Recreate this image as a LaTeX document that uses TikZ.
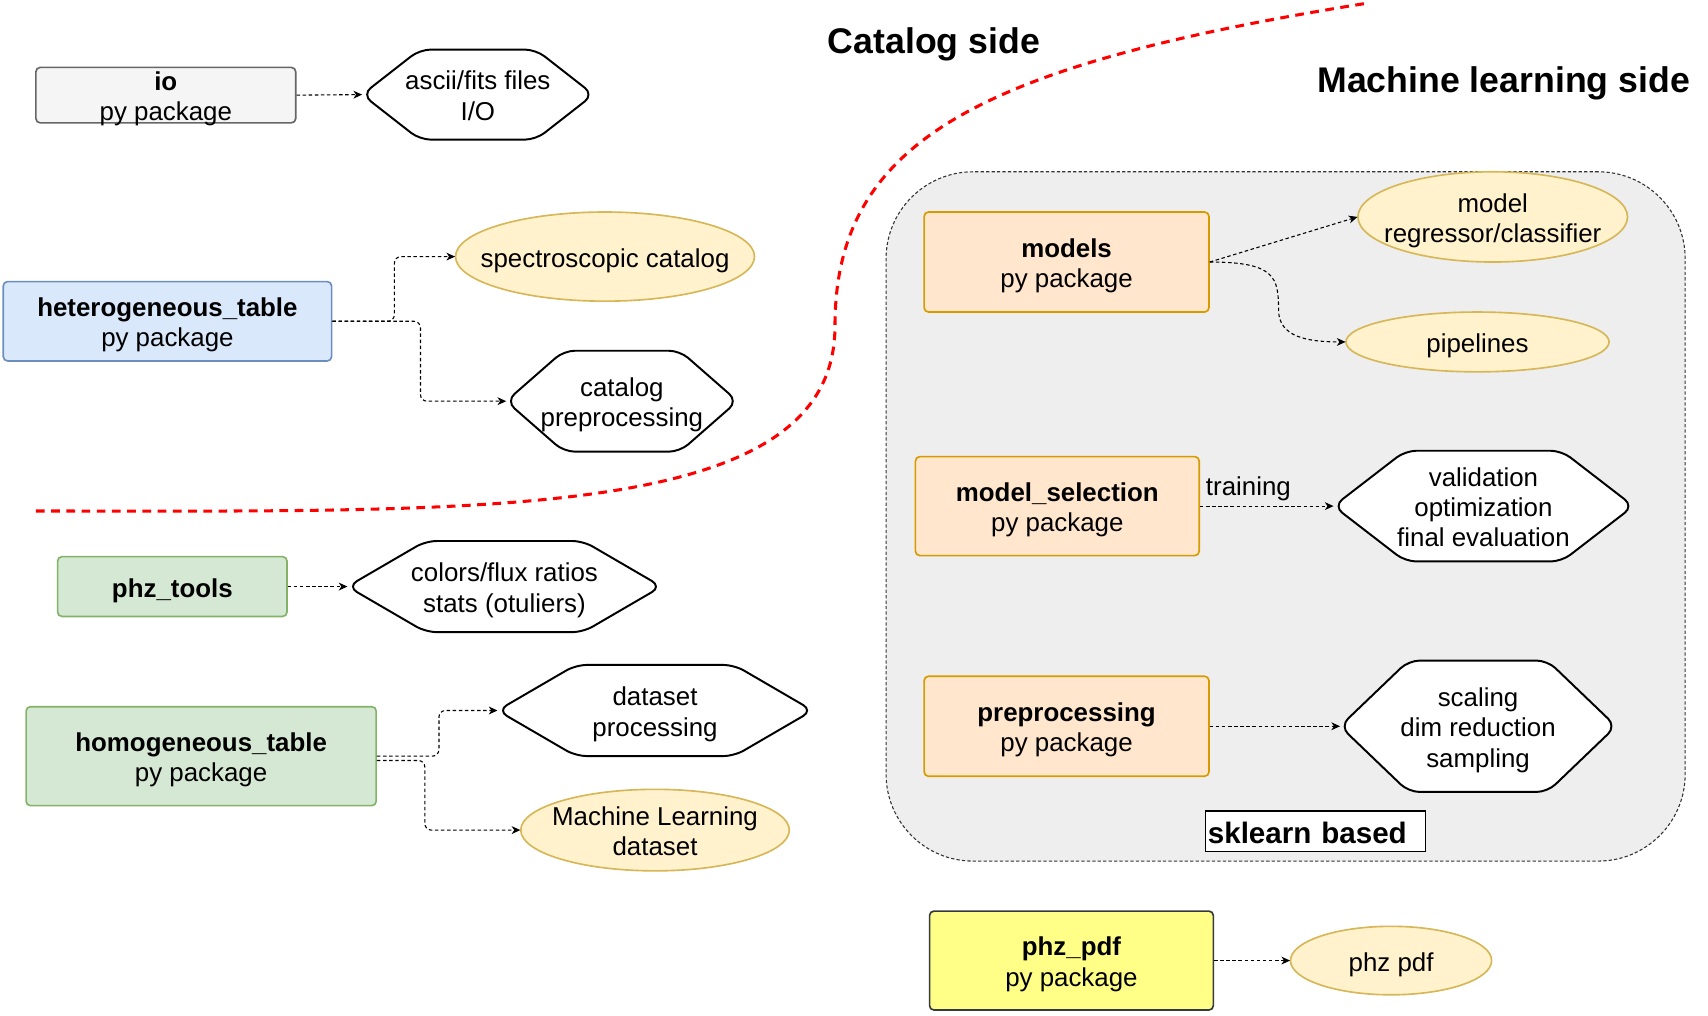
\documentclass[tikz,border=0pt]{standalone}
\usepackage{fontspec}
\setmainfont{Liberation Sans}
\usetikzlibrary{arrows.meta}
\pgfdeclarelayer{bg}
\pgfdeclarelayer{mid}
\pgfsetlayers{bg,mid,main}
\definecolor{grayfill}{HTML}{F5F5F5}
\definecolor{graystroke}{HTML}{666666}
\definecolor{bluefill}{HTML}{DAE8FC}
\definecolor{bluestroke}{HTML}{6C8EBF}
\definecolor{greenfill}{HTML}{D5E8D4}
\definecolor{greenstroke}{HTML}{82B366}
\definecolor{orangefill}{HTML}{FFE6CC}
\definecolor{orangestroke}{HTML}{D79B00}
\definecolor{yelfill}{HTML}{FFF2CC}
\definecolor{yelstroke}{HTML}{D6B656}
\definecolor{pdffill}{HTML}{FFFF88}
\definecolor{pdfstroke}{HTML}{36393D}
\definecolor{contfill}{HTML}{EEEEEE}
\definecolor{contstroke}{HTML}{333333}
% lowered multi-line text block
\newcommand\lo[1]{\raisebox{-2pt}[\height][\depth]{\begin{tabular}{@{}c@{}}#1\end{tabular}}}
% lowered text block that does not enlarge its node
\newcommand\loz[1]{\raisebox{-5pt}[0pt][0pt]{\begin{tabular}{@{}c@{}}#1\end{tabular}}}
\newcommand\drawhex[2]{%
  \begin{pgfonlayer}{mid}
  \draw[hexline] (#1.north) -- ([xshift=-#2]#1.north east) -- (#1.east) -- ([xshift=-#2]#1.south east) -- ([xshift=#2]#1.south west) -- (#1.west) -- ([xshift=#2]#1.north west) -- cycle;
  \end{pgfonlayer}}
\newcommand\drawell[3]{%
  \begin{pgfonlayer}{mid}
  \draw[ellline] (#1.center) ellipse [x radius=#2, y radius=#3];
  \end{pgfonlayer}}
\begin{document}
\begin{tikzpicture}[x=0.5pt,y=-0.5pt,
  txt/.style={font=\fontsize{11.9}{14}\selectfont, inner sep=0pt},
  pkg/.style={txt, draw, rounded corners=2pt, line width=0.75pt},
  ellnode/.style={txt},
  ellline/.style={draw=yelstroke, fill=yelfill, line width=0.75pt},
  hexnode/.style={txt},
  hexline/.style={draw=black, fill=white, line width=0.9pt, rounded corners=5pt},
  conn/.style={draw, line width=0.5pt, dash pattern=on 1.6pt off 1.2pt, rounded corners=3pt,
    -{Stealth[length=4pt,width=3.6pt,inset=1.2pt]}},
  title/.style={font=\bfseries\fontsize{16.4}{19}\selectfont, inner sep=0pt}
]
\useasboundingbox (0,0) rectangle (1571,934);

% container
\begin{pgfonlayer}{bg}
\node[draw=contstroke, fill=contfill, line width=0.5pt, dash pattern=on 1.5pt off 1pt,
  rounded corners=40pt, minimum width=367.5pt, minimum height=317pt, inner sep=0pt]
  (container) at (1182.5,475) {};
\end{pgfonlayer}

% titles
\node[title] (catside) at (859,41) {Catalog side};
\node[title] (mlside) at (1383,77) {Machine learning side};

% red separator
\draw[red, line width=1.4pt, dash pattern=on 4pt off 3pt]
  (33,470) .. controls (450,470) and (768,480) .. (768,300)
  .. controls (768,130) and (900,60) .. (1257,3);

% catalog side
\node[pkg, draw=graystroke, fill=grayfill, minimum width=119.5pt, minimum height=25.5pt]
  (io) at (152.5,87.5) {\loz{\textbf{io}\\py package}};
\node[hexnode, minimum width=106pt, minimum height=41pt] (ascii) at (439.5,87) {\lo{ascii/fits files\\I/O}};
\drawhex{ascii}{26.5pt}

\node[pkg, draw=bluestroke, fill=bluefill, minimum width=151pt, minimum height=36.5pt]
  (het) at (154,295.5) {\lo{\textbf{heterogeneous\_table}\\py package}};
\node[ellnode, minimum width=137.5pt, minimum height=41pt] (spec) at (556.5,236) {\lo{spectroscopic catalog}};
\drawell{spec}{68.75pt}{20.5pt}
\node[hexnode, minimum width=106pt, minimum height=46pt] (catprep) at (572,369) {\lo{catalog\\preprocessing}};
\drawhex{catprep}{26.5pt}

\node[pkg, draw=greenstroke, fill=greenfill, minimum width=105.5pt, minimum height=27.5pt]
  (phztools) at (158.5,539.5) {\lo{\textbf{phz\_tools}}};
\node[hexnode, minimum width=144pt, minimum height=41.5pt] (colors) at (464,539.5) {\lo{colors/flux ratios\\stats (otuliers)}};
\drawhex{colors}{36pt}

\node[pkg, draw=greenstroke, fill=greenfill, minimum width=161pt, minimum height=45.5pt]
  (homog) at (185,695.5) {\lo{\textbf{homogeneous\_table}\\py package}};
\node[hexnode, minimum width=144.5pt, minimum height=41.5pt] (dataset) at (602.5,653.5) {\lo{dataset\\processing}};
\drawhex{dataset}{36pt}
\node[ellnode, minimum width=123.5pt, minimum height=37.5pt] (mldata) at (602.5,763.5) {\lo{Machine Learning\\dataset}};
\drawell{mldata}{61.75pt}{18.75pt}

% ML side
\node[pkg, draw=orangestroke, fill=orangefill, minimum width=131pt, minimum height=46pt]
  (models) at (981,241) {\lo{\textbf{models}\\py package}};
\node[ellnode, minimum width=124pt, minimum height=41.5pt] (modelell) at (1373,199.5) {\lo{model\\regressor/classifier}};
\drawell{modelell}{62pt}{20.75pt}
\node[ellnode, minimum width=121pt, minimum height=27.5pt] (pipelines) at (1359,314.5) {\lo{pipelines}};
\drawell{pipelines}{60.5pt}{13.75pt}

\node[pkg, draw=orangestroke, fill=orangefill, minimum width=130.5pt, minimum height=45.5pt]
  (modelsel) at (972.5,465.5) {\lo{\textbf{model\_selection}\\py package}};
\node[hexnode, minimum width=137.5pt, minimum height=50.5pt] (valid) at (1364.5,465.5) {\lo{validation\\optimization\\final evaluation}};
\drawhex{valid}{33pt}

\node[pkg, draw=orangestroke, fill=orangefill, minimum width=131pt, minimum height=46pt]
  (preproc) at (981,668) {\lo{\textbf{preprocessing}\\py package}};
\node[hexnode, minimum width=126.5pt, minimum height=60pt] (scaling) at (1359.5,668) {\lo{scaling\\dim reduction\\sampling}};
\drawhex{scaling}{31.5pt}

\node[draw=black, fill=white, line width=0.6pt, minimum width=101pt, minimum height=18.5pt,
  inner xsep=1pt, inner ysep=0pt, text width=99pt, align=left,
  font=\bfseries\fontsize{13.6}{15}\selectfont] (sklearn) at (1210,764.5) {\raisebox{-1pt}[\height][\depth]{sklearn based}};

\node[pkg, draw=pdfstroke, fill=pdffill, minimum width=130.5pt, minimum height=45.5pt]
  (phzpdf) at (985.5,883.5) {\lo{\textbf{phz\_pdf}\\py package}};
\node[ellnode, minimum width=92.5pt, minimum height=31.5pt] (phzpdfell) at (1279.5,883.5) {\lo{phz pdf}};
\drawell{phzpdfell}{46.25pt}{15.75pt}

% connectors
\draw[conn] (io.east) -- (ascii.west);
\draw[conn] (het.east) -- ++(57,0) |- (spec.west);
\draw[conn] (het.east) -- ++(81,0) |- (catprep.west);
\draw[conn] (phztools.east) -- (colors.west);
\draw[conn] (homog.east) -- ++(57,0) |- (dataset.west);
\draw[conn] ([yshift=-2pt]homog.east) -- ++(44,0) |- (mldata.west);
\draw[conn] (models.east) -- (modelell.west);
\draw[conn, rounded corners=0pt] (models.east) .. controls +(60,0) and +(0,-30) .. (1176,285)
  .. controls +(0,25) and +(-35,0) .. (pipelines.west);
\draw[conn] (modelsel.east) -- node[pos=0, anchor=south west, font=\fontsize{11.9}{14}\selectfont,
  inner xsep=2.5pt, inner ysep=2pt] (trainlbl) {training} (valid.west);
\draw[conn] (preproc.east) -- (scaling.west);
\draw[conn] (phzpdf.east) -- (phzpdfell.west);
\end{tikzpicture}
\end{document}
